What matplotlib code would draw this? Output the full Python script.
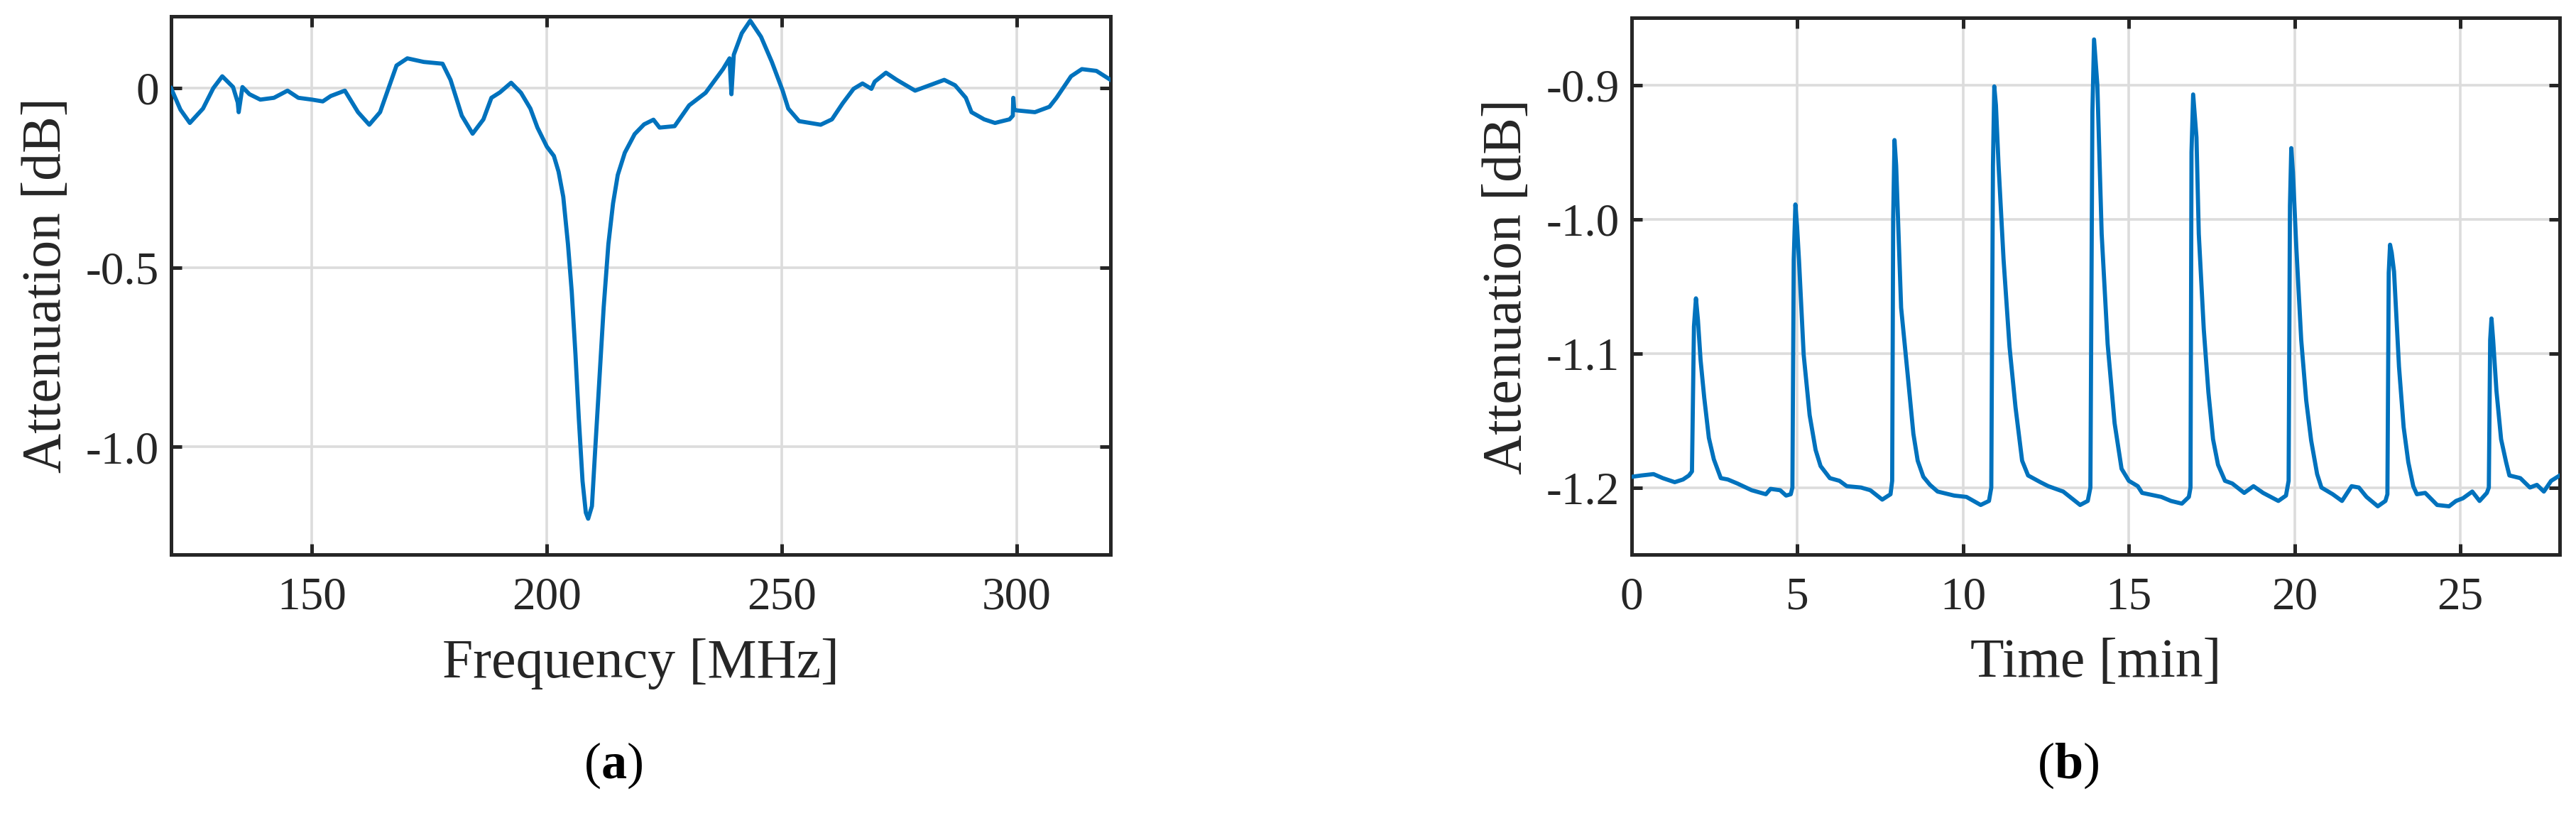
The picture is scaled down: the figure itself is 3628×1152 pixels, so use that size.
import matplotlib
matplotlib.use("Agg")
import matplotlib.pyplot as plt

# ---------------------------------------------------------------------------
# data
# ---------------------------------------------------------------------------

# (a) attenuation vs frequency
freq_mhz = [120.0, 122.0, 124.0, 126.8, 129.0, 130.9, 133.2, 134.2, 134.4, 135.2,
            136.7, 139.0, 141.9, 144.8, 147.1, 150.0, 152.3, 154.0, 157.0, 159.8,
            162.2, 164.5, 168.0, 170.3, 173.8, 177.8, 179.5, 181.9, 184.2, 186.5,
            188.2, 190.0, 192.4, 194.5, 196.5, 198.0, 200.0, 201.5, 202.5, 203.5,
            204.5, 205.3, 206.1, 206.8, 207.6, 208.3, 208.8, 209.6, 210.3, 211.1,
            212.1, 213.1, 214.1, 215.1, 216.6, 218.7, 220.7, 222.7, 224.0, 227.2,
            230.3, 233.8, 237.5, 238.9, 239.1, 239.3, 239.8,
            241.5, 243.3, 245.6, 247.9, 250.2, 251.4, 253.7, 258.3, 260.7, 263.0,
            265.3, 267.2, 269.1, 269.8, 272.2, 274.5, 278.4, 281.5, 284.6, 286.9,
            289.2, 290.4, 293.1, 295.4, 298.5, 299.2, 299.3, 299.5, 300.0, 303.9,
            307.0, 308.5, 311.6, 313.9, 317.0, 320.0]
atten_a = [0.000, -0.060, -0.097, -0.057, 0.000, 0.033, 0.003, -0.040, -0.067, 0.003,
           -0.017, -0.032, -0.027, -0.007, -0.027, -0.032, -0.037, -0.022, -0.007, -0.067,
           -0.102, -0.067, 0.063, 0.083, 0.073, 0.068, 0.023, -0.077, -0.127, -0.087,
           -0.027, -0.012, 0.015, -0.013, -0.057, -0.110, -0.163, -0.189, -0.233, -0.303,
           -0.435, -0.567, -0.743, -0.919, -1.095, -1.183, -1.200, -1.165, -1.007, -0.831,
           -0.611, -0.435, -0.321, -0.242, -0.180, -0.128, -0.101, -0.088, -0.110, -0.106,
           -0.048, -0.013, 0.053, 0.083, 0.030, -0.017, 0.093,
           0.153, 0.188, 0.143, 0.073, -0.007, -0.057, -0.092, -0.102, -0.087, -0.042,
           -0.002, 0.013, -0.002, 0.018, 0.043, 0.023, -0.007, 0.008, 0.023, 0.008,
           -0.027, -0.067, -0.087, -0.097, -0.087, -0.077, -0.027, -0.060, -0.062, -0.067,
           -0.052, -0.027, 0.033, 0.053, 0.048, 0.023]

# (b) attenuation vs time
time_min = [0.00, 0.30, 0.66, 0.94, 1.30, 1.55, 1.73, 1.82, 1.88, 1.94,
            2.00, 2.08, 2.19, 2.33, 2.48, 2.69, 2.90, 3.19, 3.62, 4.05,
            4.19, 4.48, 4.66, 4.80, 4.85, 4.89, 4.94, 4.99, 5.05, 5.19,
            5.37, 5.55, 5.70, 5.98, 6.27, 6.49, 6.92, 7.20, 7.56, 7.81,
            7.86, 7.89, 7.93, 7.98, 8.05, 8.13, 8.34, 8.50, 8.63, 8.80,
            9.00, 9.23, 9.73, 10.10, 10.53, 10.78, 10.85, 10.90, 10.94, 10.99,
            11.07, 11.22, 11.40, 11.58, 11.78, 11.96, 12.33, 12.57, 13.02, 13.53,
            13.76, 13.84, 13.90, 13.95, 14.05, 14.18, 14.36, 14.57, 14.78, 15.00,
            15.27, 15.40, 15.98, 16.27, 16.60, 16.81, 16.86, 16.89, 16.94, 17.04,
            17.11, 17.26, 17.40, 17.54, 17.69, 17.90, 18.12, 18.48, 18.76, 19.05,
            19.51, 19.74, 19.82, 19.86, 19.90, 19.95, 20.05, 20.20, 20.35, 20.50,
            20.68, 20.81, 21.15, 21.43, 21.72, 21.94, 22.17, 22.51, 22.74, 22.80,
            22.84, 22.88, 22.93, 23.00, 23.15, 23.29, 23.43, 23.58, 23.69, 23.94,
            24.30, 24.66, 24.87, 25.08, 25.36, 25.58, 25.80, 25.86, 25.90, 25.94,
            25.99, 26.09, 26.23, 26.38, 26.48, 26.81, 27.10, 27.31, 27.52, 27.74,
            28.00]
atten_b = [-1.192, -1.191, -1.190, -1.193, -1.196, -1.194, -1.191, -1.188, -1.080, -1.059,
           -1.075, -1.105, -1.133, -1.163, -1.179, -1.193, -1.194, -1.197, -1.202, -1.205,
           -1.201, -1.202, -1.206, -1.205, -1.200, -1.030, -0.989, -1.005, -1.031, -1.101,
           -1.146, -1.172, -1.184, -1.193, -1.195, -1.199, -1.200, -1.202, -1.209, -1.205,
           -1.195, -1.000, -0.941, -0.960, -1.010, -1.066, -1.119, -1.160, -1.180, -1.192,
           -1.198, -1.203, -1.206, -1.207, -1.213, -1.210, -1.200, -0.960, -0.901, -0.915,
           -0.960, -1.030, -1.095, -1.140, -1.180, -1.191, -1.196, -1.199, -1.203, -1.213,
           -1.210, -1.200, -0.920, -0.866, -0.900, -1.011, -1.093, -1.152, -1.186, -1.195,
           -1.199, -1.204, -1.207, -1.210, -1.212, -1.207, -1.200, -0.950, -0.907, -0.939,
           -1.011, -1.082, -1.129, -1.164, -1.183, -1.195, -1.197, -1.204, -1.199, -1.204,
           -1.210, -1.206, -1.195, -0.990, -0.947, -0.965, -1.020, -1.090, -1.135, -1.165,
           -1.190, -1.200, -1.205, -1.210, -1.199, -1.200, -1.207, -1.214, -1.210, -1.205,
           -1.040, -1.019, -1.025, -1.039, -1.110, -1.155, -1.181, -1.199, -1.205, -1.204,
           -1.213, -1.214, -1.210, -1.208, -1.203, -1.210, -1.204, -1.200, -1.090, -1.074,
           -1.090, -1.128, -1.164, -1.181, -1.191, -1.193, -1.200, -1.198, -1.203, -1.195,
           -1.191]

freq_ticks = [150, 200, 250, 300]
atten_a_ticks = [0, -0.5, -1.0]
atten_a_ticklabels = ['0', '-0.5', '-1.0']
time_ticks = [0, 5, 10, 15, 20, 25]
atten_b_ticks = [-0.9, -1.0, -1.1, -1.2]
atten_b_ticklabels = ['-0.9', '-1.0', '-1.1', '-1.2']

# ---------------------------------------------------------------------------
# style
# ---------------------------------------------------------------------------
LINE_COLOR = '#0072BD'
AXIS_COLOR = '#262626'
GRID_COLOR = '#dcdcdc'

plt.rcParams['font.family'] = ['Liberation Serif', 'DejaVu Serif']
plt.rcParams['axes.unicode_minus'] = False
plt.rcParams['mathtext.fontset'] = 'custom'
plt.rcParams['mathtext.rm'] = 'Liberation Serif'
plt.rcParams['mathtext.bf'] = 'Liberation Serif:bold'

fig = plt.figure(figsize=(36.28, 11.52), dpi=100)
ax_a = fig.add_axes([0.0664, 0.322, 0.3647, 0.658])
ax_b = fig.add_axes([0.6334, 0.322, 0.3603, 0.656])


def style_axes(ax):
    ax.grid(True, color=GRID_COLOR, lw=2.6, zorder=0)
    ax.set_axisbelow(True)
    for sp in ax.spines.values():
        sp.set_color(AXIS_COLOR)
        sp.set_linewidth(3.6)
    ax.tick_params(direction='in', length=11, width=3.6, color=AXIS_COLOR,
                   top=True, right=True, labelsize=47, labelcolor=AXIS_COLOR)
    ax.tick_params(axis='y', pad=12)
    ax.tick_params(axis='x', pad=22)


# (a)
ax_a.plot(freq_mhz, atten_a, color=LINE_COLOR, lw=4.2, zorder=3,
          solid_joinstyle='round')
ax_a.set_xlim(120, 320)
ax_a.set_ylim(-1.3, 0.2)
ax_a.set_xticks(freq_ticks)
ax_a.set_yticks(atten_a_ticks)
ax_a.set_yticklabels(atten_a_ticklabels)
style_axes(ax_a)
ax_a.set_xlabel('Frequency [MHz]', fontsize=56, color=AXIS_COLOR, labelpad=20)
ax_a.set_ylabel('Attenuation [dB]', fontsize=56, color=AXIS_COLOR, labelpad=14)

# (b)
ax_b.plot(time_min, atten_b, color=LINE_COLOR, lw=4.2, zorder=3,
          solid_joinstyle='round')
ax_b.set_xlim(0, 28)
ax_b.set_ylim(-1.25, -0.85)
ax_b.set_xticks(time_ticks)
ax_b.set_yticks(atten_b_ticks)
ax_b.set_yticklabels(atten_b_ticklabels)
style_axes(ax_b)
ax_b.set_xlabel('Time [min]', fontsize=56, color=AXIS_COLOR, labelpad=20)
ax_b.set_ylabel('Attenuation [dB]', fontsize=56, color=AXIS_COLOR, labelpad=14)

# sub-figure captions
for xc, letter in [(864 / 3628, 'a'), (2913 / 3628, 'b')]:
    fig.text(xc, 1 - 1078 / 1152, '(' + r'$\mathbf{' + letter + '}$' + ')',
             ha='center', va='center', fontsize=52, color='black')

fig.savefig('out.png', dpi=100, facecolor='white')
